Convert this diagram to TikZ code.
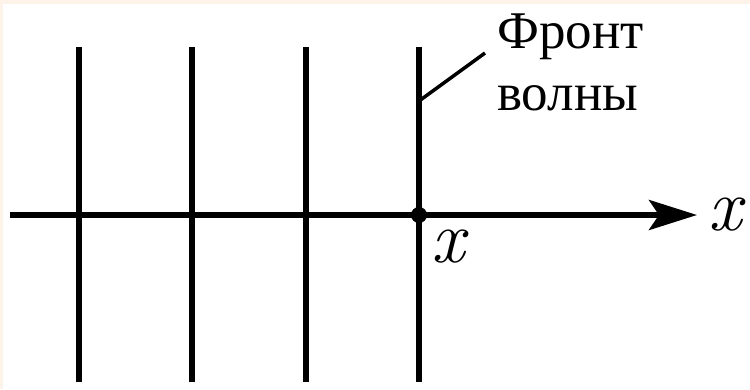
\documentclass[tikz,border=0pt]{standalone}
\usepackage{fontspec}
\setmainfont{Liberation Serif}
\newfontfamily\ser{Liberation Serif}
\newfontfamily\lmr{Latin Modern Roman}
\usetikzlibrary{arrows.meta}
\definecolor{peach}{HTML}{FEF3E8}
\begin{document}
\begin{tikzpicture}[x=1pt,y=-1pt,
  wave/.style={line width=5.5pt},
  lbl/.style={inner sep=0pt,anchor=base west},
  flbl/.style={lbl,font=\ser\fontsize{53}{53}\selectfont},
  xlbl/.style={lbl,font=\lmr\itshape\fontsize{74}{74}\selectfont}]
\fill[peach] (0,0) rectangle (750,389);
\fill[white] (3,4) rectangle (750,389);
\useasboundingbox (0,0) rectangle (750,389);
\foreach \i/\xx in {1/79,2/192,3/306,4/419}{
  \coordinate (t\i) at (\xx,47);
  \coordinate (b\i) at (\xx,382);
  \draw[wave] (t\i) -- (b\i);
}
\coordinate (a0) at (10,215);
\coordinate (a1) at (697,215);
\draw[wave,-{Stealth[length=48pt,width=30pt,inset=10pt]}] (a0) -- (a1);
\coordinate (dot) at (419,215);
\fill (dot) circle (8pt);
\coordinate (l0) at (419,101);
\coordinate (l1) at (485,53);
\draw[line width=3.5pt] (l0) -- (l1);
\node[flbl] (f1) at (497,48) {Фронт};
\node[flbl] (f2) at (497,110) {волны};
\node[xlbl] (xr) at (708,230) {x};
\node[xlbl] (xd) at (431,262) {x};
\end{tikzpicture}
\end{document}
